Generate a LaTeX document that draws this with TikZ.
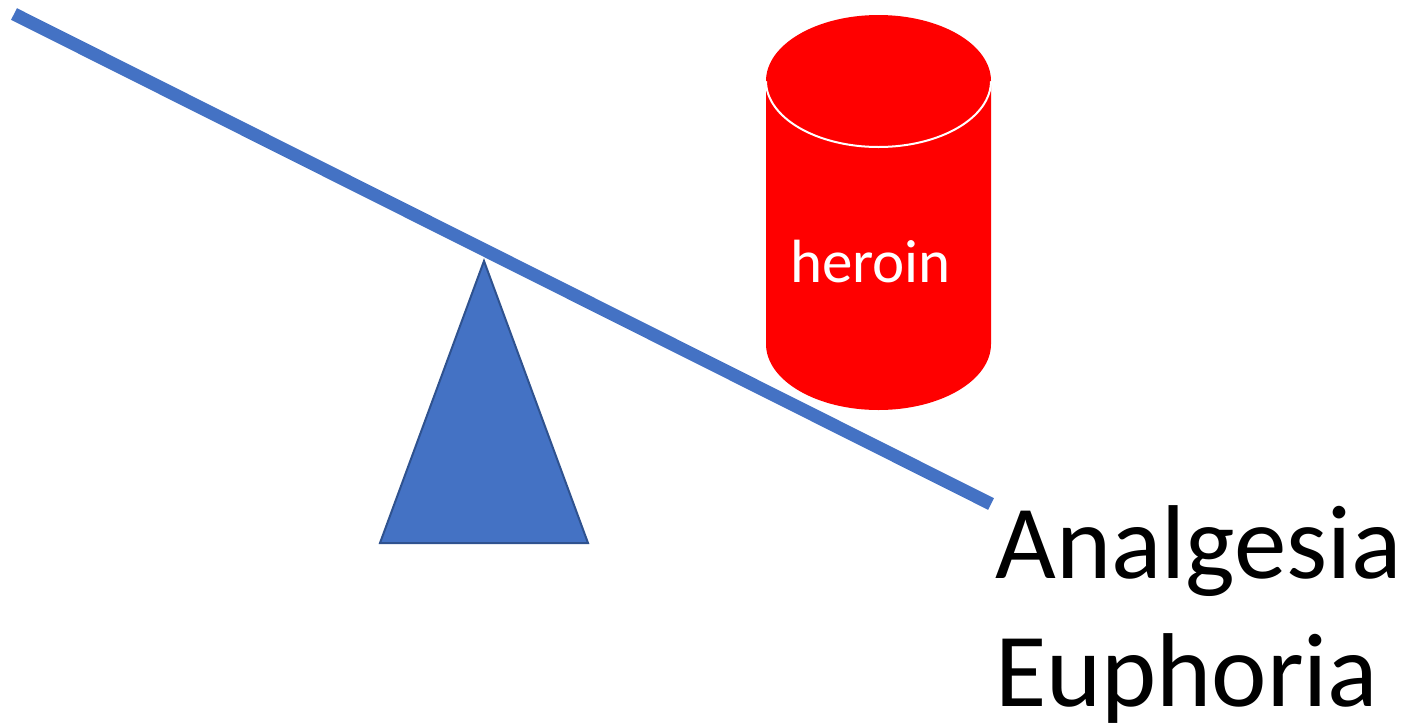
\documentclass[tikz,border=0pt]{standalone}
\usepackage{fontspec}
\setmainfont{Carlito}
\definecolor{officeblue}{HTML}{4472C4}
\definecolor{officeblueedge}{HTML}{2F528F}
\definecolor{drugred}{HTML}{FF0000}
\begin{document}
\begin{tikzpicture}[x=1pt,y=-1pt,
  beam/.style={draw=officeblue,line width=13pt,line cap=butt},
  fulcrum/.style={fill=officeblue,draw=officeblueedge,line width=2pt,line join=miter},
  bigtext/.style={inner sep=0pt,anchor=base west,font=\fontsize{105}{126}\selectfont}]
\useasboundingbox (0,0) rectangle (1419,724);
% beam
\coordinate (bl) at (14,14);
\coordinate (br) at (991,504);
\draw[beam] (bl) -- (br);
% fulcrum
\coordinate (apex) at (484,261);
\coordinate (fl) at (380,543);
\coordinate (fr) at (588,543);
\filldraw[fulcrum] (apex) -- (fr) -- (fl) -- cycle;
% cylinder
\fill[drugred] (766,81) -- (766,344) arc[start angle=180,end angle=360,x radius=112.5,y radius=-66] -- (991,81) arc[start angle=0,end angle=180,x radius=112.5,y radius=-66] -- cycle;
\draw[white,line width=2pt] (878.5,81) ellipse[x radius=112.5,y radius=66];
\fill[drugred] (766,81) arc[start angle=180,end angle=0,x radius=112.5,y radius=-66] -- cycle;
\node[inner sep=0pt,anchor=base,text=white,font=\fontsize{61}{73}\selectfont] (drug) at (870.5,282) {heroin};
% labels
\node[bigtext] (ana) at (995,578) {Analgesia};
\node[bigtext] (eup) at (995,706) {Euphoria};
\end{tikzpicture}
\end{document}
